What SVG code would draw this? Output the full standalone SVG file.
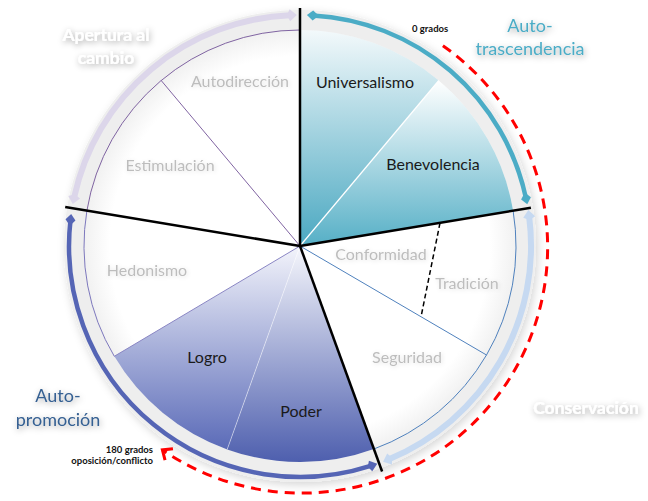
<svg xmlns="http://www.w3.org/2000/svg" width="648" height="501" viewBox="0 0 648 501">
  <defs>
    <style>
      .lbl{font-family:Lato,"Open Sans","Liberation Sans",sans-serif;font-size:16px;text-anchor:middle}
      .dark{fill:#1a1a1a}
      .grey{fill:#bdbdbd;filter:url(#soft)}
      .head{font-family:Lato,"Open Sans","Liberation Sans",sans-serif;font-size:18px;text-anchor:middle;filter:url(#tshadow)}
      .bold{font-weight:bold}
      .small{font-family:Lato,"Liberation Sans",sans-serif;font-size:9.5px;font-weight:bold;fill:#111}
      .blk{stroke:#000;stroke-width:2.5;fill:none;stroke-linecap:butt}
      .thin{fill:none;stroke-width:1}
      .arc{fill:none;stroke-linecap:butt}
    </style>
    <radialGradient id="disk" cx="300" cy="246" r="216" gradientUnits="userSpaceOnUse">
      <stop offset="0.88" stop-color="#ffffff"/>
      <stop offset="1" stop-color="#f1f1f1"/>
    </radialGradient>
    <linearGradient id="tealU" x1="0" y1="0" x2="0" y2="1">
      <stop offset="0" stop-color="#f3f9fb"/>
      <stop offset="1" stop-color="#4aa8c1"/>
    </linearGradient>
    <linearGradient id="tealB" x1="0" y1="0" x2="0" y2="1">
      <stop offset="0" stop-color="#ffffff"/>
      <stop offset="1" stop-color="#55afc6"/>
    </linearGradient>
    <linearGradient id="blueL" x1="0" y1="0" x2="0" y2="1">
      <stop offset="0" stop-color="#f3f4fb"/>
      <stop offset="1" stop-color="#5b6bb8"/>
    </linearGradient>
    <linearGradient id="blueP" x1="0" y1="0" x2="0" y2="1">
      <stop offset="0" stop-color="#f6f7fc"/>
      <stop offset="1" stop-color="#4e5fae"/>
    </linearGradient>
    <filter id="ringsh" x="-20%" y="-20%" width="140%" height="140%">
      <feGaussianBlur in="SourceAlpha" stdDeviation="4"/>
      <feOffset dx="2" dy="3" result="b"/>
      <feFlood flood-color="#000" flood-opacity="0.16"/>
      <feComposite in2="b" operator="in" result="s"/>
      <feMerge><feMergeNode in="s"/><feMergeNode in="SourceGraphic"/></feMerge>
    </filter>
    <filter id="tshadow" x="-30%" y="-60%" width="160%" height="220%">
      <feGaussianBlur in="SourceAlpha" stdDeviation="3"/>
      <feOffset dx="1" dy="2" result="b"/>
      <feFlood flood-color="#000" flood-opacity="0.35"/>
      <feComposite in2="b" operator="in" result="s"/>
      <feMerge><feMergeNode in="s"/><feMergeNode in="SourceGraphic"/></feMerge>
    </filter>
    <filter id="soft" x="-20%" y="-50%" width="140%" height="200%">
      <feGaussianBlur in="SourceAlpha" stdDeviation="2"/>
      <feOffset dx="1" dy="1" result="b"/>
      <feFlood flood-color="#000" flood-opacity="0.12"/>
      <feComposite in2="b" operator="in" result="s"/>
      <feMerge><feMergeNode in="s"/><feMergeNode in="SourceGraphic"/></feMerge>
    </filter>
    <marker id="dTeal" viewBox="-7 -6 14 12" refX="0" refY="0" markerWidth="14" markerHeight="12" markerUnits="userSpaceOnUse" orient="auto-start-reverse">
      <path d="M-6,0 L0,-5 L6,0 L0,5 Z" fill="#4bacc6"/>
    </marker>
    <marker id="aLav" viewBox="-7 -7 16 14" refX="0" refY="0" markerWidth="16" markerHeight="14" markerUnits="userSpaceOnUse" orient="auto-start-reverse">
      <path d="M7,0 L0,-6 L-3,0 L0,6 Z" fill="#dcd6ea"/>
    </marker>
    <marker id="dBlue" viewBox="-7 -6 14 12" refX="0" refY="0" markerWidth="14" markerHeight="12" markerUnits="userSpaceOnUse" orient="auto-start-reverse">
      <path d="M-6,0 L0,-5 L6,0 L0,5 Z" fill="#5565b5"/>
    </marker>
    <marker id="aBlue" viewBox="-7 -7 16 14" refX="0" refY="0" markerWidth="16" markerHeight="14" markerUnits="userSpaceOnUse" orient="auto-start-reverse">
      <path d="M7,0 L0,-5.5 L-3,0 L0,5.5 Z" fill="#5565b5"/>
    </marker>
    <marker id="aLb" viewBox="-7 -7 16 14" refX="0" refY="0" markerWidth="16" markerHeight="14" markerUnits="userSpaceOnUse" orient="auto-start-reverse">
      <path d="M7,0 L0,-6 L-3,0 L0,6 Z" fill="#c6d9f1"/>
    </marker>
    <marker id="aRed" viewBox="-10 -9 14 18" refX="0" refY="0" markerWidth="14" markerHeight="18" markerUnits="userSpaceOnUse" orient="auto" overflow="visible">
      <path d="M-8,-7 L0,0 L-8,7" fill="none" stroke="#ff0000" stroke-width="3"/>
    </marker>
  </defs>

  <rect width="648" height="501" fill="#ffffff"/>

  <!-- ring and base disk -->
  <g id="ring">
    <circle cx="300" cy="246" r="226" fill="none" stroke="#eeeeee" stroke-width="20" filter="url(#ringsh)"/>
    <circle cx="300" cy="246" r="216" fill="url(#disk)"/>
  </g>

  <!-- sectors -->
  <g id="universalismo">
    <path d="M300,246 L300,30 A216,216 0 0 1 438.8,80.5 Z" fill="url(#tealU)"/>
    <text class="lbl dark" x="365" y="88">Universalismo</text>
  </g>
  <g id="benevolencia">
    <path d="M300,246 L438.8,80.5 A216,216 0 0 1 513.1,210.7 Z" fill="url(#tealB)"/>
    <line x1="300" y1="246" x2="438.8" y2="80.5" stroke="#ffffff" stroke-width="1.2"/>
    <text class="lbl dark" x="433" y="170">Benevolencia</text>
  </g>
  <g id="poder">
    <path d="M300,246 L373.9,449 A216,216 0 0 1 227.2,449.4 Z" fill="url(#blueP)"/>
    <text class="lbl dark" x="301" y="417">Poder</text>
  </g>
  <g id="logro">
    <path d="M300,246 L227.2,449.4 A216,216 0 0 1 114.3,356.3 Z" fill="url(#blueL)"/>
    <line x1="300" y1="246" x2="227.2" y2="449.4" stroke="#ffffff" stroke-opacity="0.45" stroke-width="1"/>
    <text class="lbl dark" x="207" y="363">Logro</text>
  </g>
  <g id="hedonismo">
    <line x1="300" y1="246" x2="114.3" y2="356.3" stroke="#8a86c4" stroke-width="1"/>
    <path class="thin" d="M114.3,356.3 A216,216 0 0 1 86.9,210.7" stroke="#7d78bd"/>
    <text class="lbl grey" x="147" y="276">Hedonismo</text>
  </g>
  <g id="estimulacion">
    <path class="thin" d="M86.9,210.7 A216,216 0 0 1 300,30" stroke="#8064a2"/>
    <line x1="300" y1="246" x2="161.2" y2="80.5" stroke="#8064a2" stroke-width="1"/>
    <text class="lbl grey" x="170" y="171">Estimulación</text>
  </g>
  <g id="autodireccion">
    <text class="lbl grey" x="240" y="87">Autodirección</text>
  </g>
  <g id="conformidad">
    <text class="lbl grey" x="381" y="260">Conformidad</text>
  </g>
  <g id="tradicion">
    <line x1="440" y1="223" x2="421" y2="317" stroke="#000" stroke-width="1.5" stroke-dasharray="5 3"/>
    <text class="lbl grey" x="467" y="289">Tradición</text>
  </g>
  <g id="seguridad">
    <path class="thin" d="M513.1,210.7 A216,216 0 0 1 373.9,449" stroke="#4f81bd"/>
    <line x1="300" y1="246" x2="486.5" y2="355" stroke="#4f81bd" stroke-width="1"/>
    <text class="lbl grey" x="407" y="363">Seguridad</text>
  </g>

  <!-- main dividers -->
  <g id="dividers">
    <line class="blk" x1="300" y1="246" x2="300" y2="8"/>
    <line class="blk" x1="300" y1="246" x2="530.9" y2="207.8"/>
    <line class="blk" x1="300" y1="246" x2="382.1" y2="471.5"/>
    <line class="blk" x1="300" y1="246" x2="65.2" y2="207.1"/>
  </g>

  <!-- connectors (arcs) -->
  <g id="connectors">
    <path class="arc" d="M312.9,15.4 A231,231 0 0 1 526,198.4" stroke="#4bacc6" stroke-width="4.5" marker-start="url(#dTeal)" marker-end="url(#dTeal)"/>
    <path class="arc" d="M289.9,15.2 A231,231 0 0 0 74.2,197.2" stroke="#dcd6ea" stroke-width="6" marker-start="url(#aLav)" marker-end="url(#aLav)"/>
    <path class="arc" d="M70.5,219.9 A231,231 0 0 0 370.6,465.9" stroke="#5565b5" stroke-width="4.5" marker-start="url(#dBlue)" marker-end="url(#aBlue)"/>
    <path class="arc" d="M529.2,217 A231,231 0 0 1 389.5,459" stroke="#c6d9f1" stroke-width="6" marker-start="url(#aLb)" marker-end="url(#aLb)"/>
    <path class="arc" d="M442.9,45.7 A246,246 0 0 1 162.4,449.9" stroke="#ff0000" stroke-width="3" stroke-dasharray="10 7" marker-end="url(#aRed)"/>
  </g>

  <!-- group titles -->
  <g id="titles">
    <text class="head" fill="#4bacc6"><tspan x="530" y="32">Auto-</tspan><tspan x="530" y="55">trascendencia</tspan></text>
    <text class="head bold" fill="#ffffff" style="font-size:17.5px"><tspan x="106" y="41">Apertura al</tspan><tspan x="106" y="64">cambio</tspan></text>
    <text class="head" fill="#366092"><tspan x="58" y="402">Auto-</tspan><tspan x="58" y="426">promoción</tspan></text>
    <text class="head bold" fill="#ffffff" x="586" y="414" style="font-size:17.5px">Conservación</text>
    <text class="small" x="412" y="32">0 grados</text>
    <text class="small" text-anchor="end"><tspan x="153" y="453">180 grados</tspan><tspan x="153" y="464">oposición/conflicto</tspan></text>
  </g>
</svg>
